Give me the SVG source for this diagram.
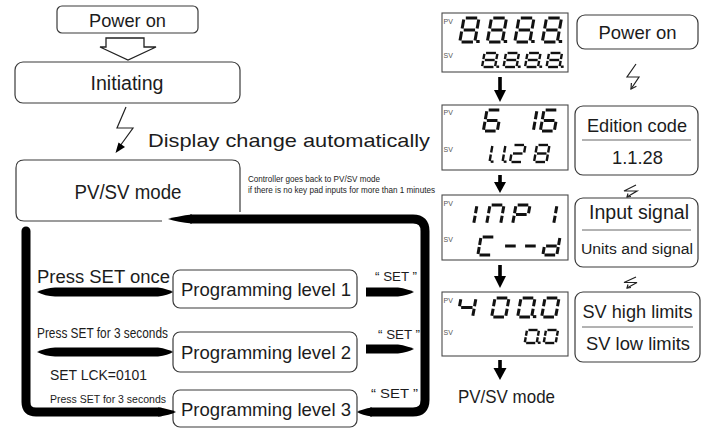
<svg xmlns="http://www.w3.org/2000/svg" width="706" height="428" viewBox="0 0 706 428">
<style>
text{font-family:"Liberation Sans",Arial,Helvetica,sans-serif;fill:#1c1c1c}
.box{fill:#fff;stroke:#3a3a3a;stroke-width:1.2}
.lcd{fill:#fff;stroke:#4a4a4a;stroke-width:1.1}
.lbl{font-size:7px;fill:#555}
.pv{stroke:#111;stroke-width:3;fill:none}
.sv{stroke:#111;stroke-width:2.4;fill:none}
.thick{fill:none;stroke:#000;stroke-width:9}
.blk{fill:#000}
.ln{fill:none;stroke:#222;stroke-width:1.2}
.dv{stroke:#666;stroke-width:1}
.m{text-anchor:middle}
</style>
<defs>
<path id="sa" d="M1.2,0H8.8" vector-effect="non-scaling-stroke"/>
<path id="sb" d="M10,1.2V8.8" vector-effect="non-scaling-stroke"/>
<path id="sc" d="M10,11.2V18.8" vector-effect="non-scaling-stroke"/>
<path id="sd" d="M1.2,20H8.8" vector-effect="non-scaling-stroke"/>
<path id="se" d="M0,11.2V18.8" vector-effect="non-scaling-stroke"/>
<path id="sf" d="M0,1.2V8.8" vector-effect="non-scaling-stroke"/>
<path id="sg" d="M1.2,10H8.8" vector-effect="non-scaling-stroke"/>
<path id="sp" d="M11.9,19.6H12.2" vector-effect="non-scaling-stroke" stroke-linecap="square"/>
<g id="g8"><use href="#sa"/><use href="#sb"/><use href="#sc"/><use href="#sd"/><use href="#se"/><use href="#sf"/><use href="#sg"/></g>
<g id="g8p"><use href="#g8"/><use href="#sp"/></g>
<g id="g6"><use href="#sa"/><use href="#sc"/><use href="#sd"/><use href="#se"/><use href="#sf"/><use href="#sg"/></g>
<g id="g1"><use href="#sb"/><use href="#sc"/></g>
<g id="g1p"><use href="#sb"/><use href="#sc"/><use href="#sp"/></g>
<g id="g2"><use href="#sa"/><use href="#sb"/><use href="#sg"/><use href="#se"/><use href="#sd"/></g>
<g id="gn"><use href="#sa"/><use href="#sb"/><use href="#sc"/><use href="#se"/><use href="#sf"/></g>
<g id="gP"><use href="#sa"/><use href="#sb"/><use href="#se"/><use href="#sf"/><use href="#sg"/></g>
<g id="gC"><use href="#sa"/><use href="#sd"/><use href="#se"/><use href="#sf"/></g>
<g id="gm"><use href="#sg"/></g>
<g id="gd"><use href="#sb"/><use href="#sc"/><use href="#sd"/><use href="#se"/><use href="#sg"/></g>
<g id="g4"><use href="#sb"/><use href="#sc"/><use href="#sf"/><use href="#sg"/></g>
<g id="g0"><use href="#sa"/><use href="#sb"/><use href="#sc"/><use href="#sd"/><use href="#se"/><use href="#sf"/></g>
<g id="g0p"><use href="#g0"/><use href="#sp"/></g>
</defs>
<rect width="706" height="428" fill="#fff"/>

<!-- left flow nodes -->
<g id="power-on-left">
<rect class="box" x="57" y="6" width="141" height="27" rx="5"/>
<text class="m" x="127.5" y="26.5" font-size="18.5" textLength="77" lengthAdjust="spacingAndGlyphs">Power on</text>
</g>
<g id="initiating">
<rect class="box" x="15" y="62" width="225" height="41" rx="8"/>
<text class="m" x="127" y="89.5" font-size="19.5" textLength="73" lengthAdjust="spacingAndGlyphs">Initiating</text>
</g>
<g id="pvsv-mode">
<path class="box" d="M162,221H24Q16,221 16,213V168Q16,160 24,160H232Q240,160 240,168V212"/>
<text class="m" x="128" y="199" font-size="20" textLength="107" lengthAdjust="spacingAndGlyphs">PV/SV mode</text>
</g>
<g id="prog-1">
<rect class="box" x="173" y="270" width="184" height="38" rx="7"/>
<text class="m" x="266" y="295.5" font-size="18.5" textLength="170" lengthAdjust="spacingAndGlyphs">Programming level 1</text>
</g>
<g id="prog-2">
<rect class="box" x="173" y="332" width="184" height="40" rx="7"/>
<text class="m" x="266" y="358.5" font-size="18.5" textLength="170" lengthAdjust="spacingAndGlyphs">Programming level 2</text>
</g>
<g id="prog-3">
<rect class="box" x="173" y="390" width="184" height="37" rx="7"/>
<text class="m" x="266" y="415.5" font-size="18.5" textLength="170" lengthAdjust="spacingAndGlyphs">Programming level 3</text>
</g>

<!-- connectors -->
<g id="connectors">
<polygon points="106,38 144,38 144,47 156,47 128,60 100,47 106,47" fill="#fff" stroke="#222" stroke-width="1.3"/>
<polyline class="ln" points="126,107 117,128 133,128 120,146"/>
<polygon class="blk" points="115.5,153 125,147 118.5,142.5"/>
<path class="thick" d="M26,231V402Q26,412 36,412H160" stroke-linecap="round"/>
<path class="blk" d="M158,407.5Q170,409 176,412Q170,415 158,416.5Z"/>
<path class="thick" d="M370,412H413Q425,412 425,400V231Q425,219 413,219H190"/>
<path class="blk" d="M372,407.5Q362,409 357,412Q362,415 372,416.5Z"/>
<path class="blk" d="M192,214.5Q178,216 168,219Q178,222 192,223.5Z"/>
<path class="blk" d="M37,292Q45,288 55,287.5H158Q168,289 173,292Q168,295 158,296.5H55Q45,296 37,292Z"/>
<path class="blk" d="M366,287.5H398Q408,289 414,292Q408,295 398,296.5H366Z"/>
<path class="blk" d="M37,352Q45,348 55,347.5H158Q168,349 173,352Q168,355 158,356.5H55Q45,356 37,352Z"/>
<path class="blk" d="M366,344.5H398Q408,346 414,349Q408,352 398,353.5H366Z"/>
<rect class="blk" x="498.2" y="77" width="3.6" height="14"/><polygon class="blk" points="494,90 506,90 500,102"/>
<rect class="blk" x="498.2" y="175" width="3.6" height="8"/><polygon class="blk" points="494,182 506,182 500,193"/>
<rect class="blk" x="498.2" y="265" width="3.6" height="12"/><polygon class="blk" points="494,276 506,276 500,288"/>
<rect class="blk" x="498.2" y="360" width="3.6" height="9"/><polygon class="blk" points="493.5,368 506.5,368 500,380"/>
<polyline class="ln" points="636,64 627,77 639,77 631,89"/>
<polyline class="ln" points="636.4,86.3 631,89 631.4,83"/>
<polyline class="ln" stroke-width="1" points="636,185 624,191 637,191 627,197"/>
<polyline class="ln" stroke-width="1" points="631,196.5 627,197 628,193.5"/>
<polyline class="ln" stroke-width="1" points="636,277 624,282.5 637,282.5 627,288"/>
<polyline class="ln" stroke-width="1" points="631,287.5 627,288 628,284.5"/>
</g>

<!-- labels -->
<g id="labels">
<text x="148" y="146.5" font-size="19" textLength="282" lengthAdjust="spacingAndGlyphs">Display change automatically</text>
<text x="248" y="182" font-size="9" textLength="132" lengthAdjust="spacingAndGlyphs">Controller goes back to PV/SV mode</text>
<text x="248" y="193" font-size="9" textLength="187" lengthAdjust="spacingAndGlyphs">if there is no key pad inputs for more than 1 minutes</text>
<text x="37" y="283" font-size="18" textLength="133" lengthAdjust="spacingAndGlyphs">Press SET once</text>
<text x="37" y="338" font-size="15" textLength="131" lengthAdjust="spacingAndGlyphs">Press SET for 3 seconds</text>
<text x="50" y="380" font-size="15" textLength="97" lengthAdjust="spacingAndGlyphs">SET LCK=0101</text>
<text x="50" y="403" font-size="11.8" textLength="116" lengthAdjust="spacingAndGlyphs">Press SET for 3 seconds</text>
<text x="375" y="281" font-size="13" textLength="42" lengthAdjust="spacingAndGlyphs">“ SET ”</text>
<text x="378" y="339" font-size="13" textLength="42" lengthAdjust="spacingAndGlyphs">“ SET ”</text>
<text x="371" y="398" font-size="13" textLength="47" lengthAdjust="spacingAndGlyphs">“ SET ”</text>
<text x="458" y="403" font-size="19" textLength="97" lengthAdjust="spacingAndGlyphs">PV/SV mode</text>
</g>

<!-- displays -->
<g id="display-1">
<rect class="lcd" x="442" y="13" width="126" height="59"/>
<text class="lbl" x="443.5" y="24">PV</text><text class="lbl" x="443.5" y="58">SV</text>
<use href="#g8p" class="pv" transform="translate(464,18) skewX(-10) scale(1.5,1.2)"/>
<use href="#g8p" class="pv" transform="translate(491.5,18) skewX(-10) scale(1.5,1.2)"/>
<use href="#g8p" class="pv" transform="translate(519,18) skewX(-10) scale(1.5,1.2)"/>
<use href="#g8p" class="pv" transform="translate(546.5,18) skewX(-10) scale(1.5,1.2)"/>
<use href="#g8p" class="sv" transform="translate(484.5,53) skewX(-10) scale(1.3,0.7)"/>
<use href="#g8p" class="sv" transform="translate(506,53) skewX(-10) scale(1.3,0.7)"/>
<use href="#g8p" class="sv" transform="translate(527.5,53) skewX(-10) scale(1.3,0.7)"/>
<use href="#g8p" class="sv" transform="translate(549,53) skewX(-10) scale(1.3,0.7)"/>
</g>
<g id="display-2">
<rect class="lcd" x="442" y="105" width="126" height="65"/>
<text class="lbl" x="443.5" y="115">PV</text><text class="lbl" x="443.5" y="152">SV</text>
<use href="#g6" class="pv" transform="translate(487,110) skewX(-10) scale(1.4,1.05)"/>
<use href="#g1" class="pv" transform="translate(523,110) skewX(-10) scale(1.4,1.05)"/>
<use href="#g6" class="pv" transform="translate(544,110) skewX(-10) scale(1.4,1.05)"/>
<use href="#g1p" class="sv" transform="translate(480,145) skewX(-10) scale(1.25,0.85)"/>
<use href="#g1p" class="sv" transform="translate(493,145) skewX(-10) scale(1.25,0.85)"/>
<use href="#g2" class="sv" transform="translate(513,145) skewX(-10) scale(1.25,0.85)"/>
<use href="#g8" class="sv" transform="translate(537,145) skewX(-10) scale(1.25,0.85)"/>
</g>
<g id="display-3">
<rect class="lcd" x="442" y="195" width="126" height="65"/>
<text class="lbl" x="443.5" y="206">PV</text><text class="lbl" x="443.5" y="242">SV</text>
<use href="#g1" class="pv" transform="translate(463,205) skewX(-10) scale(1.4,0.95)"/>
<use href="#gn" class="pv" transform="translate(490,205) skewX(-10) scale(1.4,0.95)"/>
<use href="#gP" class="pv" transform="translate(516,205) skewX(-10) scale(1.4,0.95)"/>
<use href="#g1" class="pv" transform="translate(543,205) skewX(-10) scale(1.4,0.95)"/>
<use href="#gC" class="pv" transform="translate(481,237) skewX(-10) scale(1.4,0.9)"/>
<use href="#gm" class="pv" transform="translate(505,237) skewX(-10) scale(1.4,0.9)"/>
<use href="#gm" class="pv" transform="translate(525,237) skewX(-10) scale(1.4,0.9)"/>
<use href="#gd" class="pv" transform="translate(546,237) skewX(-10) scale(1.4,0.9)"/>
</g>
<g id="display-4">
<rect class="lcd" x="442" y="292" width="126" height="64"/>
<text class="lbl" x="443.5" y="303">PV</text><text class="lbl" x="443.5" y="335">SV</text>
<use href="#g4" class="pv" transform="translate(461,298) skewX(-10) scale(1.5,0.95)"/>
<use href="#g0" class="pv" transform="translate(495,298) skewX(-10) scale(1.4,0.95)"/>
<use href="#g0p" class="pv" transform="translate(521,298) skewX(-10) scale(1.4,0.95)"/>
<use href="#g0" class="pv" transform="translate(545,298) skewX(-10) scale(1.4,0.95)"/>
<use href="#g0p" class="sv" transform="translate(527,330) skewX(-10) scale(1.2,0.65)"/>
<use href="#g0" class="sv" transform="translate(546,330) skewX(-10) scale(1.2,0.65)"/>
</g>

<!-- right column nodes -->
<g id="power-on-right">
<rect class="box" x="577" y="15" width="121" height="34" rx="8"/>
<text class="m" x="637.5" y="39" font-size="18.5" textLength="78" lengthAdjust="spacingAndGlyphs">Power on</text>
</g>
<g id="edition-code">
<rect class="box" x="575" y="106" width="123" height="69" rx="8"/>
<line class="dv" x1="582" y1="140" x2="691" y2="140"/>
<text class="m" x="637" y="132" font-size="18.2" textLength="100" lengthAdjust="spacingAndGlyphs">Edition code</text>
<text class="m" x="637.5" y="164" font-size="18.5" textLength="51" lengthAdjust="spacingAndGlyphs">1.1.28</text>
</g>
<g id="input-signal">
<rect class="box" x="575" y="198" width="123" height="69" rx="8"/>
<line class="dv" x1="582" y1="230" x2="691" y2="230"/>
<text class="m" x="639" y="219" font-size="19.5" textLength="100" lengthAdjust="spacingAndGlyphs">Input signal</text>
<text class="m" x="637" y="254" font-size="15.5" textLength="112" lengthAdjust="spacingAndGlyphs">Units and signal</text>
</g>
<g id="sv-limits">
<rect class="box" x="575" y="292" width="125" height="70" rx="8"/>
<line class="dv" x1="582" y1="327" x2="693" y2="327"/>
<text class="m" x="637.5" y="318" font-size="18.4" textLength="110" lengthAdjust="spacingAndGlyphs">SV high limits</text>
<text class="m" x="638" y="350" font-size="18.3" textLength="104" lengthAdjust="spacingAndGlyphs">SV low limits</text>
</g>
</svg>
